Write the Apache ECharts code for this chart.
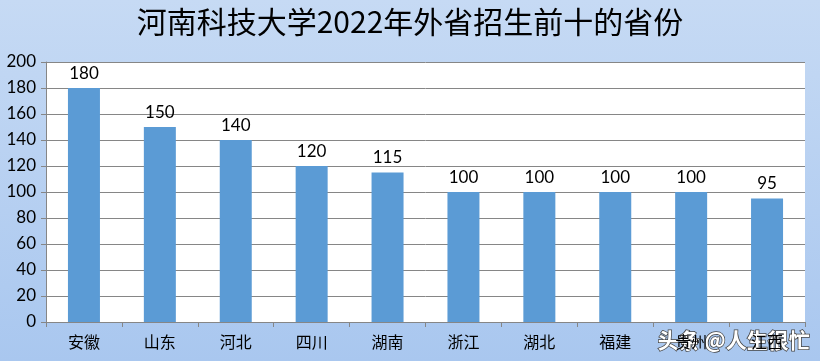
<!DOCTYPE html>
<html>
<head>
<meta charset="utf-8">
<script src="https://cdn.jsdelivr.net/npm/echarts@6/dist/echarts.min.js"></script>
<style>
  html, body { margin: 0; padding: 0; }
  #main { width: 820px; height: 361px; }
</style>
</head>
<body>
<div id="main"></div>
<script>
// 外省招生前十的省份
const provinces = ['安徽', '山东', '河北', '四川', '湖南', '浙江', '湖北', '福建', '贵州', '江西'];
const counts = [180, 150, 140, 120, 115, 100, 100, 100, 100, 95];
const yTicks = [0, 20, 40, 60, 80, 100, 120, 140, 160, 180, 200];

const chart = echarts.init(document.getElementById('main'));

const option = {
  backgroundColor: {
    type: 'linear', x: 0, y: 0, x2: 0, y2: 1,
    colorStops: [
      { offset: 0, color: '#c6daf4' },
      { offset: 1, color: '#a9c7ef' }
    ]
  },
  textStyle: { fontFamily: '"Noto Sans CJK SC", sans-serif' },
  title: {
    text: '河南科技大学2022年外省招生前十的省份',
    left: 'center',
    top: 2,
    textStyle: {
      fontSize: 30,
      fontWeight: 'normal',
      color: '#000',
      fontFamily: '"Noto Sans CJK SC", sans-serif'
    }
  },
  grid: {
    left: 46,
    right: 15,
    top: 62,
    bottom: 39,
    show: true,
    backgroundColor: '#fff',
    borderWidth: 0
  },
  xAxis: {
    type: 'category',
    data: provinces,
    axisLine: { lineStyle: { color: '#868686' } },
    axisTick: { show: true, length: 5, lineStyle: { color: '#868686' } },
    axisLabel: { color: '#000', fontSize: 16, margin: 12 }
  },
  yAxis: {
    type: 'value',
    min: yTicks[0],
    max: yTicks[yTicks.length - 1],
    interval: 20,
    axisLine: { show: true, lineStyle: { color: '#868686' } },
    axisTick: { show: true, length: 5, inside: false, lineStyle: { color: '#868686' } },
    axisLabel: { color: '#000', fontSize: 17, margin: 10, fontFamily: 'Lato, sans-serif' },
    splitLine: { lineStyle: { color: '#868686' } }
  },
  series: [{
    type: 'bar',
    data: counts,
    barWidth: 32,
    itemStyle: { color: '#5b9bd5' },
    label: {
      show: true,
      position: 'top',
      distance: 6,
      color: '#000',
      fontSize: 17,
      fontFamily: 'Lato, sans-serif'
    }
  }],
  graphic: [{
    type: 'text',
    left: 657,
    top: 329,
    style: {
      text: '头条 @人生很忙',
      fill: '#fff',
      font: 'bold 21px "Noto Sans CJK SC", sans-serif',
      stroke: '#444',
      lineWidth: 1.5,
      shadowColor: 'rgba(0,0,0,0.6)',
      shadowBlur: 2,
      shadowOffsetX: 1,
      shadowOffsetY: 1
    }
  }]
};

option && chart.setOption(option);
</script>
</body>
</html>
